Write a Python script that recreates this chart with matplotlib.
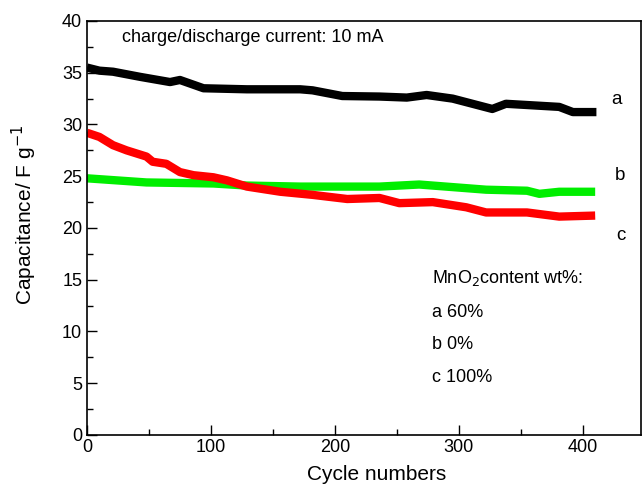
import matplotlib
matplotlib.use("Agg")
import matplotlib.pyplot as plt
from matplotlib.ticker import MultipleLocator

plt.rcParams['font.family'] = ['Liberation Sans', 'DejaVu Sans']

# sample a: 60% MnO2
cyc_a = [0, 10, 21, 43, 67, 75, 94, 129, 172, 182, 206, 236, 258, 274, 295, 327, 338, 381, 392, 411]
cap_a = [35.5, 35.2, 35.1, 34.6, 34.1, 34.3, 33.5, 33.4, 33.4, 33.3, 32.75, 32.7, 32.6, 32.85, 32.5, 31.5, 32.0, 31.7, 31.2, 31.2]
# sample b: 0% MnO2
cyc_b = [0, 48, 102, 129, 172, 236, 268, 322, 355, 365, 381, 410]
cap_b = [24.8, 24.4, 24.3, 24.1, 24.0, 24.0, 24.2, 23.7, 23.6, 23.3, 23.5, 23.5]
# sample c: 100% MnO2
cyc_c = [0, 10, 21, 32, 48, 53, 64, 75, 86, 102, 113, 129, 156, 182, 210, 236, 252, 279, 306, 322, 355, 381, 410]
cap_c = [29.2, 28.8, 28.0, 27.5, 26.9, 26.4, 26.2, 25.4, 25.1, 24.9, 24.6, 24.0, 23.5, 23.2, 22.8, 22.9, 22.4, 22.5, 22.0, 21.5, 21.5, 21.1, 21.2]

fig = plt.figure(figsize=(6.42, 4.87), dpi=100)
ax = fig.add_axes([0.1355, 0.1068, 0.8630, 0.8501])

ax.plot(cyc_a, cap_a, color='black', linewidth=6, solid_capstyle='butt')
ax.plot(cyc_b, cap_b, color='#00ee00', linewidth=6, solid_capstyle='butt')
ax.plot(cyc_c, cap_c, color='#ff0000', linewidth=6, solid_capstyle='butt')

ax.set_xlim(0, 447)
ax.set_ylim(0, 40)
ax.xaxis.set_major_locator(MultipleLocator(100))
ax.xaxis.set_minor_locator(MultipleLocator(50))
ax.yaxis.set_major_locator(MultipleLocator(5))
ax.yaxis.set_minor_locator(MultipleLocator(2.5))
ax.tick_params(which='both', direction='in', labelsize=13, width=1)
ax.tick_params(which='major', length=7)
ax.tick_params(which='minor', length=4)
ax.tick_params(axis='x', pad=3)
for s in ax.spines.values():
    s.set_linewidth(1.2)

ax.set_xlabel('Cycle numbers', fontsize=15)
ax.set_ylabel('Capacitance/ F g$^{-1}$', fontsize=15)
ax.xaxis.set_label_coords(0.523, -0.073)
ax.yaxis.set_label_coords(-0.087, 0.531)

ax.text(28, 38.45, 'charge/discharge current: 10 mA', fontsize=13, va='center')
ax.text(423, 32.4, 'a', fontsize=13.5, va='center')
ax.text(426, 25.1, 'b', fontsize=13.5, va='center')
ax.text(427, 19.3, 'c', fontsize=13.5, va='center')
ax.text(278, 15.2, 'MnO$_2$content wt%:', fontsize=13, va='center')
ax.text(278, 11.8, 'a 60%', fontsize=13, va='center')
ax.text(278, 8.7, 'b 0%', fontsize=13, va='center')
ax.text(278, 5.6, 'c 100%', fontsize=13, va='center')

fig.savefig('out.png', dpi=100)
